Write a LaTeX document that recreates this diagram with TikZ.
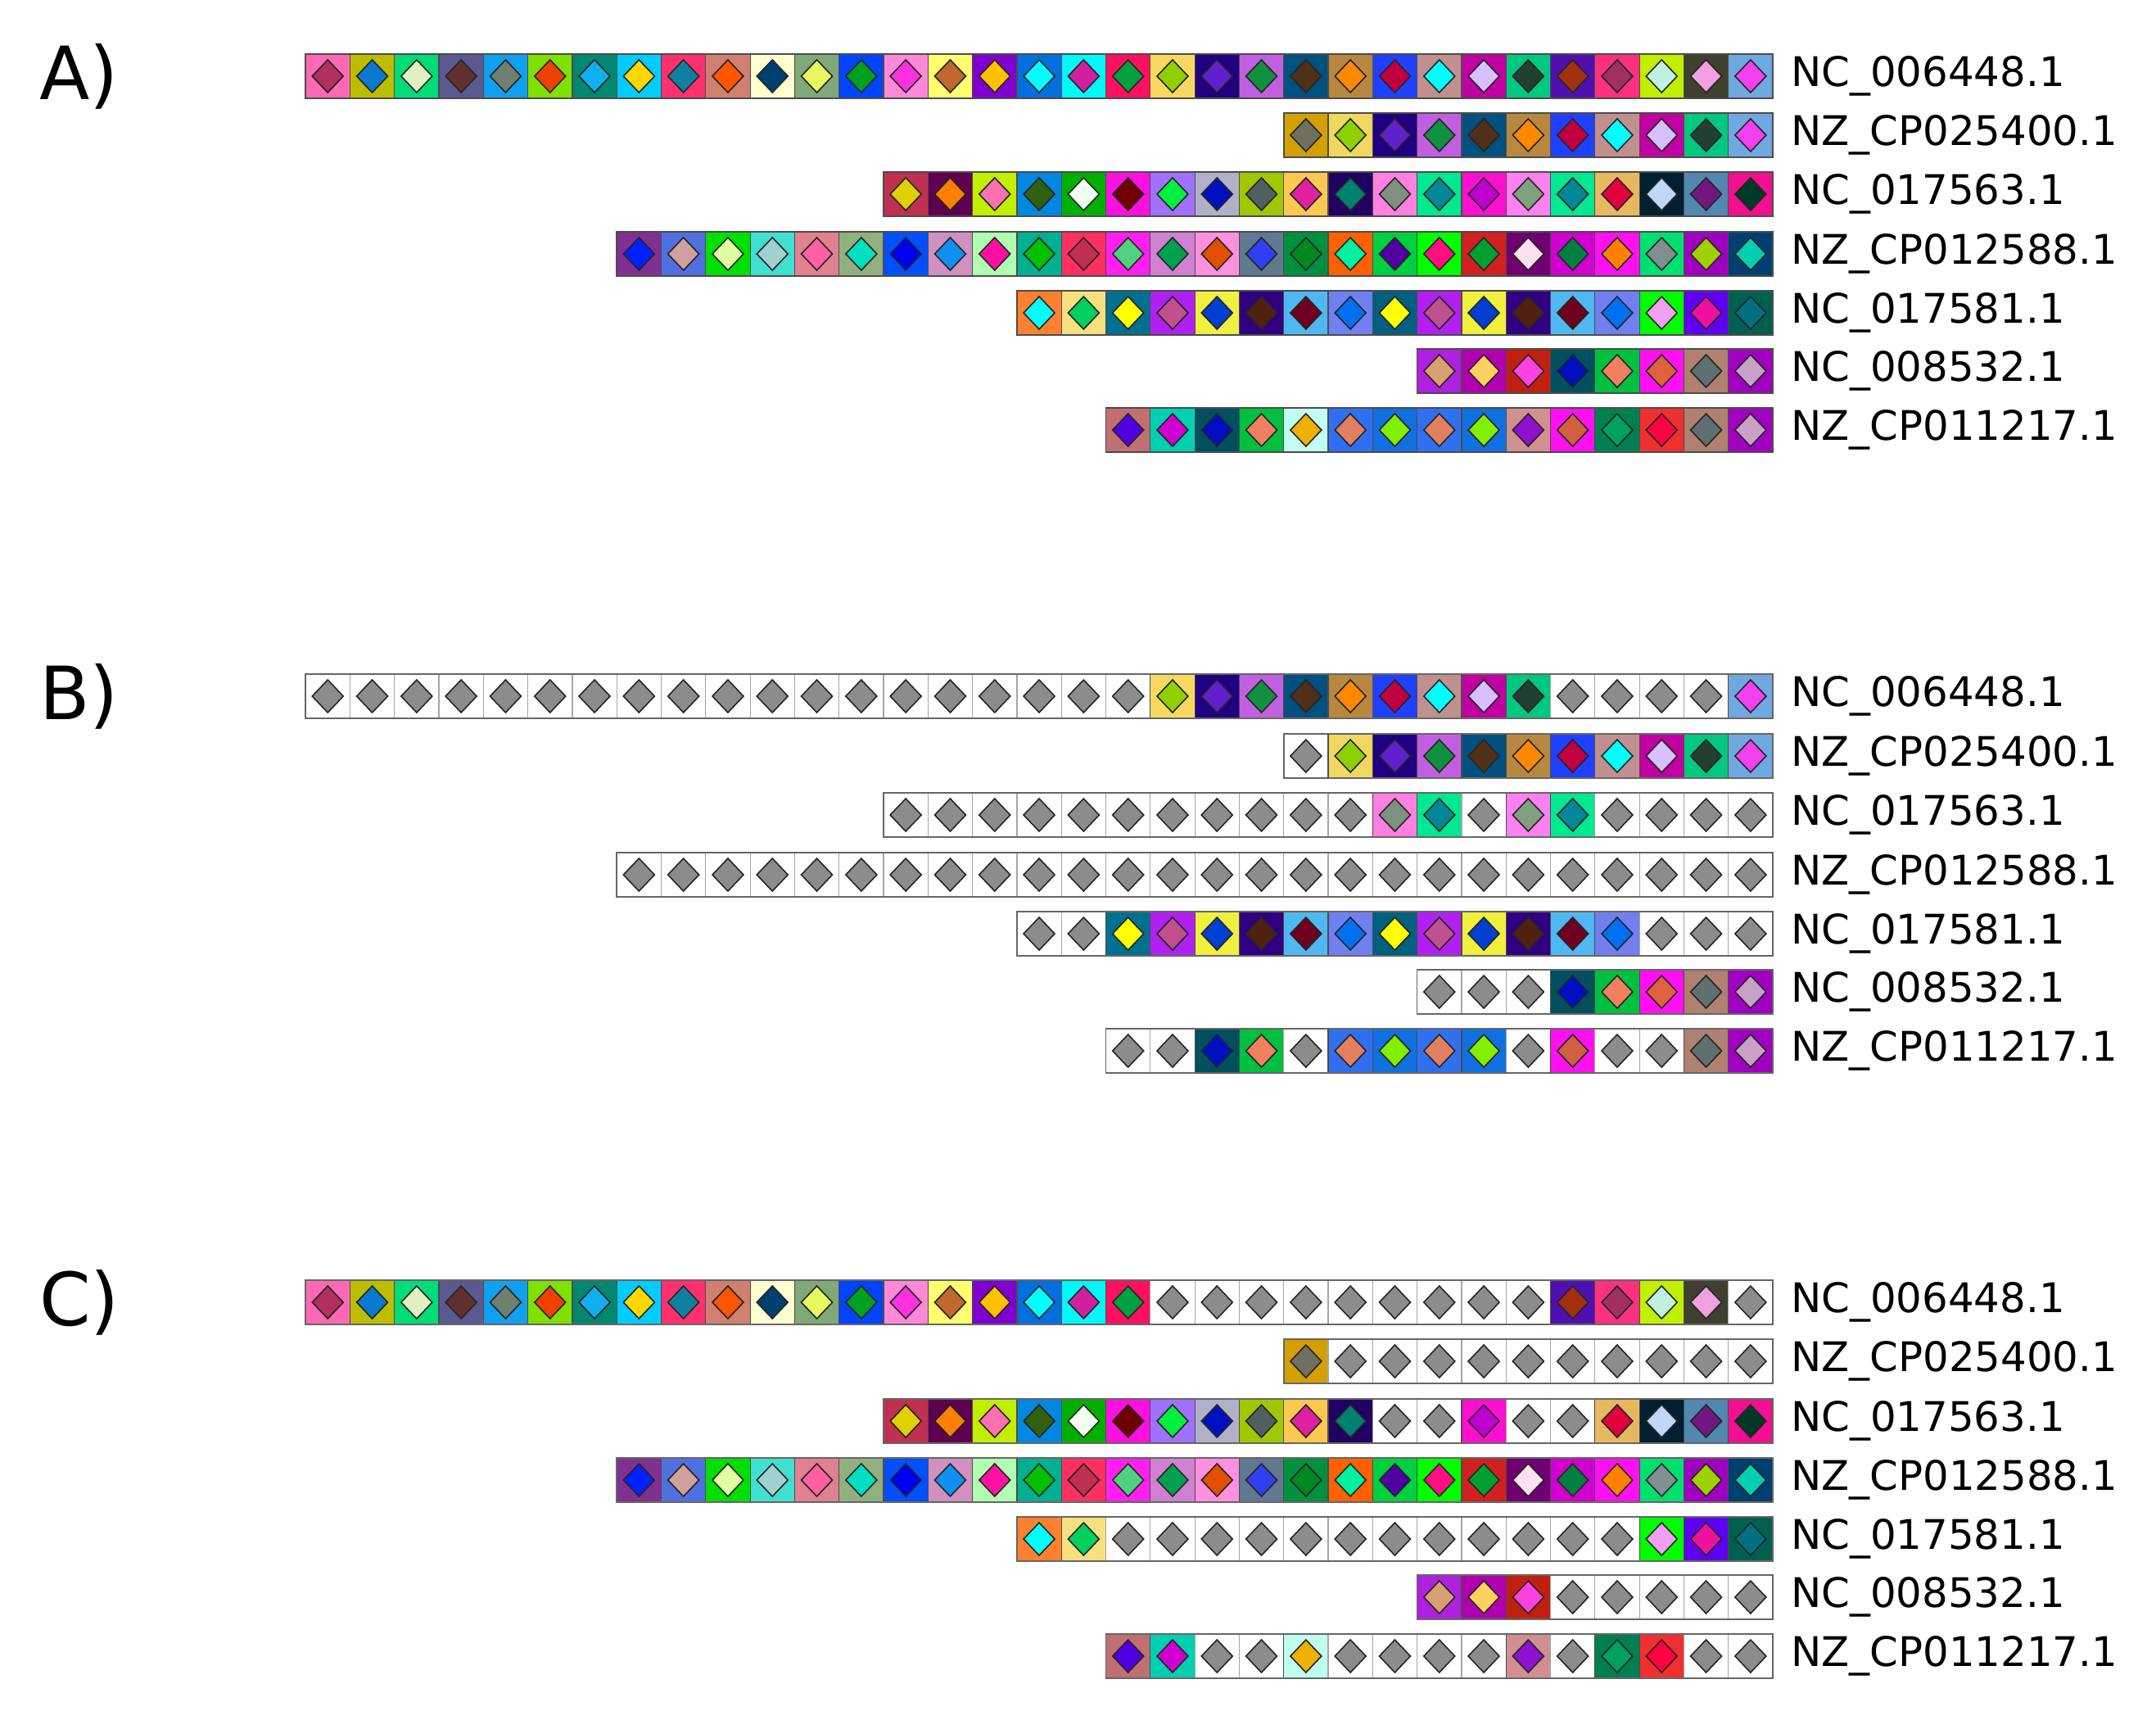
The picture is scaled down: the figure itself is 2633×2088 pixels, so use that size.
\documentclass[tikz,border=0pt]{standalone}
\usepackage{fontspec}
\setmainfont{DejaVu Sans}
\tikzset{
  cellbox/.style={draw=black!70,line width=1.2bp},
  greybox/.style={draw=black!35,line width=1.2bp,fill=white},
  dia/.style={draw=black!85,line width=1.6bp},
  seqlabel/.style={anchor=west,inner sep=0pt,font=\fontsize{50}{60}\selectfont},
  panellabel/.style={anchor=west,inner sep=0pt,font=\fontsize{90}{100}\selectfont},
}
\def\cw{54.3}
\def\xend{2165}
\newcommand\drow[5]{% #1 n cells, #2 y, #3 list, #4 mask, #5 outline colour
  \pgfmathsetmacro\xs{\xend-#1*\cw}
  \foreach \s/\d [count=\i] in #3 {
    \pgfmathtruncatemacro\m{{#4}[\i-1]}
    \pgfmathsetmacro\xl{\xs+(\i-1)*\cw}
    \pgfmathsetmacro\xc{\xl+\cw/2}
    \ifnum\m=1
      \definecolor{sq}{HTML}{\s}\definecolor{di}{HTML}{\d}
      \fill[sq] (\xl,#2-27) rectangle (\xl+\cw,#2+27);
      \draw[cellbox] (\xl,#2-27) rectangle (\xl+\cw,#2+27);
      \filldraw[dia,fill=di] (\xc,#2-20) -- (\xc+19,#2) -- (\xc,#2+20) -- (\xc-19,#2) -- cycle;
    \else
      \draw[greybox] (\xl,#2-27) rectangle (\xl+\cw,#2+27);
      \filldraw[dia,fill=black!45] (\xc,#2-20) -- (\xc+19,#2) -- (\xc,#2+20) -- (\xc-19,#2) -- cycle;
    \fi
  }
  \draw[#5,line width=1.6bp] (\xs,#2-27) rectangle (\xend,#2+27);
}
\def\rowa{FF69B4/B03060,BDBD00/0A7AD0,00DD77/E0F0C0,5A5A90/603030,10A0F0/708070,80E000/F04000,008870/10B0F0,00CCFF/FFD700,FF3070/1080A0,D08070/FF5500,FFFFD0/004070,80A878/E8F860,0044FF/00A020,FF88D8/FF30E0,FFFF70/C06830,8000D0/FFC000,0070E0/00FFFF,00F8F8/D020A0,FF1060/00A040,F8D860/90D000,200080/6020D0,C060E0/109040,005080/503018,B88840/FF8800,2040FF/C00040,C09090/00FFFF,C000A0/D8C0FF,00C880/204030,5010B0/A03010,FF3080/A03060,C0F000/C0F0E0,404030/F0A0E0,70A8E0/F040F0}
\def\rowb{D4A000/707060,F0D860/90D000,200080/6020D0,C060E0/109040,005080/503018,B88840/FF8800,2040FF/C00040,C09090/00FFFF,C000A0/D8C0FF,00C880/204030,70A8E0/F040F0}
\def\rowc{C03050/E0D000,600050/FF8000,C0F000/FF70B0,0088E0/306010,00B000/F0FFF0,FF10E0/700000,A070FF/00F040,B0B0C8/0010C0,A0C800/506060,FFC850/E020A0,200060/008070,FF80E0/809080,00E890/008898,FF10D0/C000D0,FF80F0/80A080,00E890/008898,E8B860/E00040,002030/C0D8F8,5088B0/701880,F01090/003828}
\def\rowd{803090/0020FF,5070E0/D0A0A0,00E000/E0FFA0,40E0D0/A0D0D0,E08090/FF60A0,90B080/00E0C0,0050FF/0000F0,D090C0/1090F0,B0FFB0/FF10A0,00B090/00C000,FF3060/C03050,FF20F0/50D080,D080D0/00A050,FF90E0/E05000,607890/3040F0,009040/008820,FF6000/00F0A0,00D040/5000A0,00FF00/FF1080,D02020/00A030,700070/FFE0F0,D000D0/008040,FF10F0/FF8000,00E070/809090,A000C0/A0D000,004070/00D0B0}
\def\rowe{FF8030/00FFFF,F8E080/00D060,007090/FFFF00,B020F0/C05090,F0F040/0040D0,300080/502010,50B8F0/700020,7080F0/0070F0,006080/FFFF00,B020F0/C05090,F0F040/0040D0,300080/502010,50B8F0/700020,7080F0/0070F0,00FF00/F0A0F0,6000F0/F010A0,006050/007080}
\def\rowf{B020E0/D8A070,B000B0/FFD060,C02010/FF40E0,005060/0010C0,00C040/F08060,FF10F0/E06040,B08070/607070,A000C0/C8A0C8}
\def\rowg{C07070/5000E0,00D0B0/D000D0,005060/0010C0,00C040/F08060,C0FFF0/F0B000,3070F0/E08060,1070E0/80F000,3070F0/E08060,1070E0/80F000,D09090/9010D0,FF10F0/D06040,008050/00A060,F03030/FF0040,B08070/607070,A000C0/C8A0C8}
\begin{document}
\begin{tikzpicture}[x=1bp,y=-1bp]
\useasboundingbox[fill=white] (0,0) rectangle (2633,2088);
% panel labels
\node[panellabel] (pA) at (48,93) {A)};
\node[panellabel] (pB) at (48,850) {B)};
\node[panellabel] (pC) at (48,1590) {C)};
% Panel A
\drow{33}{93}{\rowa}{1,1,1,1,1,1,1,1,1,1,1,1,1,1,1,1,1,1,1,1,1,1,1,1,1,1,1,1,1,1,1,1,1}{black!70}
\drow{11}{165}{\rowb}{1,1,1,1,1,1,1,1,1,1,1}{black!70}
\drow{20}{237}{\rowc}{1,1,1,1,1,1,1,1,1,1,1,1,1,1,1,1,1,1,1,1}{black!70}
\drow{26}{310}{\rowd}{1,1,1,1,1,1,1,1,1,1,1,1,1,1,1,1,1,1,1,1,1,1,1,1,1,1}{black!70}
\drow{17}{382}{\rowe}{1,1,1,1,1,1,1,1,1,1,1,1,1,1,1,1,1}{black!70}
\drow{8}{453}{\rowf}{1,1,1,1,1,1,1,1}{black!70}
\drow{15}{525}{\rowg}{1,1,1,1,1,1,1,1,1,1,1,1,1,1,1}{black!70}
% Panel B
\drow{33}{850}{\rowa}{0,0,0,0,0,0,0,0,0,0,0,0,0,0,0,0,0,0,0,1,1,1,1,1,1,1,1,1,0,0,0,0,1}{black!60}
\drow{11}{923}{\rowb}{0,1,1,1,1,1,1,1,1,1,1}{black!60}
\drow{20}{995}{\rowc}{0,0,0,0,0,0,0,0,0,0,0,1,1,0,1,1,0,0,0,0}{black!60}
\drow{26}{1068}{\rowd}{0,0,0,0,0,0,0,0,0,0,0,0,0,0,0,0,0,0,0,0,0,0,0,0,0,0}{black!60}
\drow{17}{1140}{\rowe}{0,0,1,1,1,1,1,1,1,1,1,1,1,1,0,0,0}{black!60}
\drow{8}{1211}{\rowf}{0,0,0,1,1,1,1,1}{black!60}
\drow{15}{1283}{\rowg}{0,0,1,1,0,1,1,1,1,0,1,0,0,1,1}{black!60}
% Panel C
\drow{33}{1590}{\rowa}{1,1,1,1,1,1,1,1,1,1,1,1,1,1,1,1,1,1,1,0,0,0,0,0,0,0,0,0,1,1,1,1,0}{black!60}
\drow{11}{1662}{\rowb}{1,0,0,0,0,0,0,0,0,0,0}{black!60}
\drow{20}{1735}{\rowc}{1,1,1,1,1,1,1,1,1,1,1,0,0,1,0,0,1,1,1,1}{black!60}
\drow{26}{1807}{\rowd}{1,1,1,1,1,1,1,1,1,1,1,1,1,1,1,1,1,1,1,1,1,1,1,1,1,1}{black!60}
\drow{17}{1879}{\rowe}{1,1,0,0,0,0,0,0,0,0,0,0,0,0,1,1,1}{black!60}
\drow{8}{1950}{\rowf}{1,1,1,0,0,0,0,0}{black!60}
\drow{15}{2022}{\rowg}{1,1,0,0,1,0,0,0,0,1,0,1,1,0,0}{black!60}
% labels
\foreach \y/\t/\p [count=\k] in {93/NC\_006448.1/A,165/NZ\_CP025400.1/A,237/NC\_017563.1/A,310/NZ\_CP012588.1/A,382/NC\_017581.1/A,453/NC\_008532.1/A,525/NZ\_CP011217.1/A,
850/NC\_006448.1/B,923/NZ\_CP025400.1/B,995/NC\_017563.1/B,1068/NZ\_CP012588.1/B,1140/NC\_017581.1/B,1211/NC\_008532.1/B,1283/NZ\_CP011217.1/B,
1590/NC\_006448.1/C,1662/NZ\_CP025400.1/C,1735/NC\_017563.1/C,1807/NZ\_CP012588.1/C,1879/NC\_017581.1/C,1950/NC\_008532.1/C,2022/NZ\_CP011217.1/C}
  \node[seqlabel] (lab\k) at (2187,\y) {\t};
\end{tikzpicture}
\end{document}
